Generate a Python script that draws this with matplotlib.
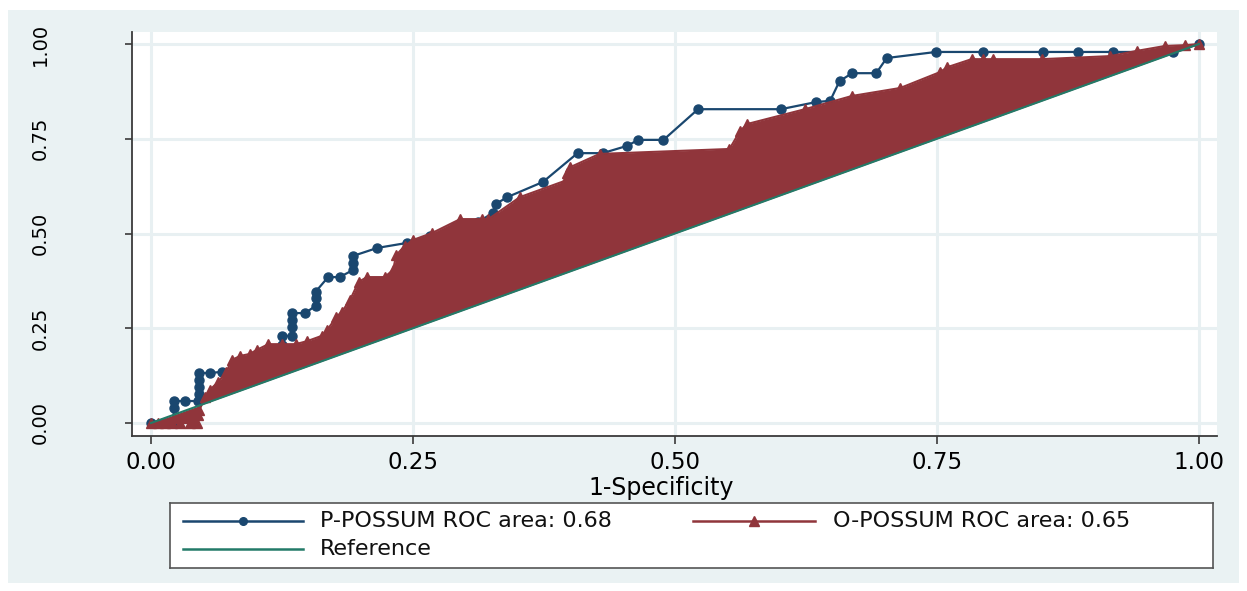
import matplotlib
matplotlib.use("Agg")
import matplotlib.pyplot as plt
from matplotlib.patches import Rectangle
from matplotlib.lines import Line2D

# ---------------- data ----------------
p_fpr = [0.0, 0.011, 0.021, 0.022, 0.022, 0.032, 0.045, 0.046, 0.046, 0.046, 0.046,
         0.056, 0.068, 0.079, 0.091, 0.102, 0.114, 0.125, 0.125, 0.135, 0.135, 0.135,
         0.135, 0.147, 0.157, 0.157, 0.157, 0.169, 0.180, 0.193, 0.193, 0.193, 0.216,
         0.244, 0.266, 0.290, 0.312, 0.326, 0.329, 0.340, 0.374, 0.407, 0.431, 0.454,
         0.465, 0.489, 0.522, 0.601, 0.635, 0.648, 0.657, 0.669, 0.692, 0.702, 0.749,
         0.794, 0.851, 0.885, 0.918, 0.975, 1.0]
p_tpr = [0.0, 0.0, 0.0, 0.040, 0.058, 0.058, 0.058, 0.077, 0.095, 0.113, 0.132,
         0.132, 0.135, 0.140, 0.150, 0.166, 0.187, 0.206, 0.230, 0.230, 0.253, 0.272,
         0.290, 0.290, 0.309, 0.330, 0.346, 0.385, 0.385, 0.404, 0.422, 0.441, 0.462,
         0.475, 0.493, 0.517, 0.530, 0.554, 0.578, 0.596, 0.636, 0.712, 0.712, 0.731,
         0.747, 0.747, 0.828, 0.828, 0.847, 0.850, 0.902, 0.923, 0.923, 0.963, 0.979,
         0.979, 0.979, 0.979, 0.979, 0.979, 1.0]

o_fpr = [0.0, 0.007, 0.013, 0.020, 0.028, 0.037, 0.044, 0.045, 0.046, 0.052, 0.056,
         0.064, 0.072, 0.077, 0.085, 0.094, 0.101, 0.112, 0.125, 0.138, 0.149, 0.163,
         0.168, 0.177, 0.182, 0.190, 0.198, 0.206, 0.223, 0.231, 0.234, 0.242, 0.250,
         0.268, 0.295, 0.316, 0.322, 0.352, 0.395, 0.397, 0.400, 0.428, 0.552, 0.562,
         0.569, 0.624, 0.669, 0.715, 0.753, 0.760, 0.783, 0.794, 0.803, 0.850, 0.915,
         0.941, 0.968, 0.987, 1.0]
o_tpr = [0.0, 0.0, 0.0, 0.0, 0.0, 0.0, 0.0, 0.021, 0.034, 0.069, 0.087,
         0.108, 0.135, 0.166, 0.177, 0.182, 0.193, 0.208, 0.208, 0.208, 0.216, 0.230,
         0.245, 0.280, 0.293, 0.325, 0.372, 0.385, 0.385, 0.404, 0.443, 0.467, 0.483,
         0.501, 0.538, 0.538, 0.538, 0.596, 0.639, 0.660, 0.675, 0.710, 0.723, 0.770,
         0.789, 0.828, 0.863, 0.884, 0.926, 0.939, 0.960, 0.960, 0.960, 0.960, 0.968,
         0.982, 0.995, 0.997, 1.0]

ref_x = [0.0, 1.0]
ref_y = [0.0, 1.0]

ticks = [0.0, 0.25, 0.5, 0.75, 1.0]
tick_labels = ["0.00", "0.25", "0.50", "0.75", "1.00"]
labels = ["P-POSSUM ROC area: 0.68", "O-POSSUM ROC area: 0.65", "Reference"]
xlabel = "1-Specificity"

# ---------------- style ----------------
NAVY = "#1a476f"
MAROON = "#90353b"
TEAL = "#237a68"
BG = "#eaf2f3"
GRID = "#e8f0f2"
SPINE = "#3a3a3a"
plt.rcParams["font.family"] = ["DejaVu Sans"]

W, H = 1247, 591
fig = plt.figure(figsize=(W / 100, H / 100), dpi=100)
fig.patch.set_facecolor("white")
fig.add_artist(Rectangle((8 / W, 8 / H), (1239 - 8) / W, (581 - 8) / H,
                         transform=fig.transFigure, facecolor=BG,
                         edgecolor="none", zorder=-10))

ax = fig.add_axes([132 / W, 1 - 436 / H, (1217 - 132) / W, (436 - 32) / H])
ax.set_facecolor("white")
ax.set_xlim(-19 / 1048, 1066 / 1048)
ax.set_ylim(-13 / 379, 391 / 379)

ax.set_xticks(ticks)
ax.set_xticklabels(tick_labels)
ax.set_yticks(ticks)
ax.set_yticklabels(tick_labels)
ax.grid(True, color=GRID, linewidth=2.2)
ax.set_axisbelow(True)

for s in ["top", "right"]:
    ax.spines[s].set_visible(False)
for s in ["left", "bottom"]:
    ax.spines[s].set_color(SPINE)
    ax.spines[s].set_linewidth(1.3)

ax.tick_params(axis="x", length=6, width=1.2, color=SPINE, pad=5, labelsize=16.5)
ax.tick_params(axis="y", length=5, width=1.2, color=SPINE, pad=54, labelsize=14,
               labelrotation=90)
for lab in ax.get_yticklabels():
    lab.set_va("center")
ax.set_xlabel(xlabel, fontsize=17, labelpad=1)
ax.xaxis.label.set_x((661 - 132) / (1217 - 132))

# curves
ax.plot(p_fpr, p_tpr, color=NAVY, lw=1.6, marker="o", ms=6.5, mfc=NAVY, mec=NAVY,
        zorder=2)
ax.fill_between(o_fpr, o_tpr, o_fpr, color=MAROON, lw=0, zorder=3)
ax.plot(o_fpr, o_tpr, color=MAROON, lw=1.5, marker="^", ms=7, mfc=MAROON, mec=MAROON,
        zorder=3)
ax.plot(ref_x, ref_y, color=TEAL, lw=1.5, zorder=4)

# legend box (drawn in its own pixel-scaled axes)
lax = fig.add_axes([170 / W, 1 - 568 / H, (1213 - 170) / W, 65 / H])
lax.set_xlim(0, 1043)
lax.set_ylim(65, 0)
lax.set_xticks([])
lax.set_yticks([])
lax.set_facecolor("white")
for s in lax.spines.values():
    s.set_color("#555555")
    s.set_linewidth(1.2)

entries = [
    (13, 133, 18, NAVY, "o", 5.5, labels[0], 150),
    (523, 645, 18, MAROON, "^", 6.5, labels[1], 663),
    (13, 133, 46, TEAL, None, 0, labels[2], 150),
]
for x0, x1, yy, col, mk, ms, lab, tx in entries:
    lax.add_line(Line2D([x0, x1], [yy, yy], color=col, lw=1.8))
    if mk:
        lax.add_line(Line2D([(x0 + x1) / 2], [yy], color=col, marker=mk, ms=ms,
                            mfc=col, mec=col, lw=0))
    lax.text(tx, yy, lab, fontsize=16, va="center", ha="left", color="#111111")

fig.savefig("out.png", dpi=100, facecolor=fig.get_facecolor())
